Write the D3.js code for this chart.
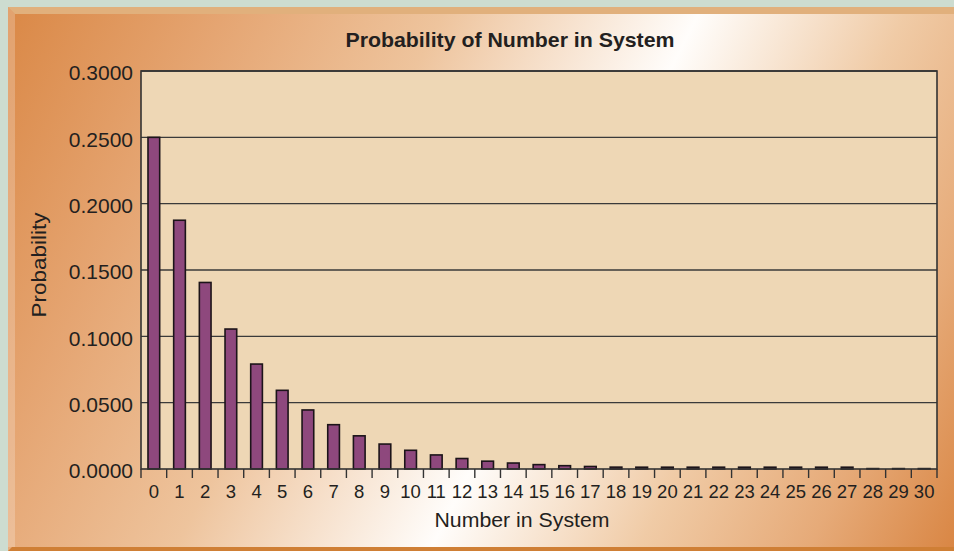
<!DOCTYPE html>
<html>
<head>
<meta charset="utf-8">
<script src="https://cdn.jsdelivr.net/npm/d3@7"></script>
<style>
  html, body { margin: 0; padding: 0; background: #cddcd0; }
  svg { display: block; }
  text { font-family: "Liberation Sans", Arial, Helvetica, sans-serif; fill: #231f20; }
</style>
</head>
<body>
<svg id="chart" width="954" height="551"></svg>
<script>
// Number of customers in the system and the probability of each count
const counts = d3.range(0, 31);
const probabilities = [
  0.2500, 0.1875, 0.1406, 0.1055, 0.0791, 0.0593, 0.0445, 0.0334,
  0.0250, 0.0188, 0.0141, 0.0106, 0.0079, 0.0059, 0.0045, 0.0033,
  0.0025, 0.0019, 0.0014, 0.0011, 0.0008, 0.0006, 0.0005, 0.0004,
  0.0003, 0.0002, 0.0002, 0.0001, 0.0000, 0.0000, 0.0000
];
const yTicks = [0, 0.05, 0.10, 0.15, 0.20, 0.25, 0.30];

const titleText = "Probability of Number in System";
const xLabel = "Number in System";
const yLabel = "Probability";

const W = 954, H = 551;
const plot = { left: 141, right: 937, top: 71, bottom: 469 };

const svg = d3.select("#chart");
const defs = svg.append("defs");

// Diagonal orange-white-orange sheen of the panel
const grad = defs.append("linearGradient")
  .attr("id", "panelGrad")
  .attr("gradientUnits", "userSpaceOnUse")
  .attr("x1", 8).attr("y1", 7).attr("x2", 982).attr("y2", 494);
[
  [0.00, "#da8846"],
  [0.18, "#e5a572"],
  [0.36, "#eec49d"],
  [0.57, "#fffdfb"],
  [0.74, "#f0cba6"],
  [0.88, "#e6aa78"],
  [1.00, "#d98644"]
].forEach(([o, c]) => grad.append("stop").attr("offset", o).attr("stop-color", c));

// Page background and panel
svg.append("rect").attr("width", W).attr("height", H).attr("fill", "#cddcd0");
svg.append("rect").attr("x", 8).attr("y", 7).attr("width", W - 8).attr("height", H - 7)
  .attr("fill", "url(#panelGrad)");

// Bevelled edges of the panel
svg.append("path")
  .attr("d", `M8,7 L${W},7 L${W},14 L15,14 Z`)
  .attr("fill", "#e1b07c");
svg.append("path")
  .attr("d", "M8,7 L15,14 L15,547 L8,547 Z")
  .attr("fill", "#ffffff").attr("opacity", 0.22);
svg.append("path")
  .attr("d", `M8,551 L12,547 L${W},547 L${W},551 Z`)
  .attr("fill", "#cf7f35");

// Scales
const n = counts.length;
const pad = 0.545;
const x = d3.scaleBand()
  .domain(counts)
  .range([plot.left, plot.right])
  .paddingInner(pad)
  .paddingOuter(pad / 2);
const step = x.step();

const y = d3.scaleLinear()
  .domain([0, 0.30])
  .range([plot.bottom, plot.top]);

// Plot background
svg.append("rect")
  .attr("x", plot.left).attr("y", plot.top)
  .attr("width", plot.right - plot.left).attr("height", plot.bottom - plot.top)
  .attr("fill", "#eed7b5");

// Horizontal gridlines
svg.append("g").selectAll("line")
  .data(yTicks.filter(d => d > 0))
  .join("line")
  .attr("x1", plot.left).attr("x2", plot.right)
  .attr("y1", d => y(d)).attr("y2", d => y(d))
  .attr("stroke", "#3a3a3a").attr("stroke-width", 1.4);

// Bars: tiny non-zero bars keep a visible body, zero bars collapse to a rule
const minVisible = 1.8;
const barHeight = d => {
  const h = plot.bottom - y(d.p);
  return d.p > 0 ? Math.max(h, minVisible) : 0.4;
};
svg.append("g").selectAll("rect")
  .data(counts.map((c, i) => ({ c, p: probabilities[i] })))
  .join("rect")
  .attr("x", d => x(d.c))
  .attr("width", x.bandwidth())
  .attr("y", d => plot.bottom - barHeight(d))
  .attr("height", barHeight)
  .attr("fill", "#8e487d")
  .attr("stroke", "#1c1419")
  .attr("stroke-width", 1.6);

// Plot frame
svg.append("rect")
  .attr("x", plot.left).attr("y", plot.top)
  .attr("width", plot.right - plot.left).attr("height", plot.bottom - plot.top)
  .attr("fill", "none")
  .attr("stroke", "#333").attr("stroke-width", 1.6);

// Y axis labels
const yAxis = d3.axisLeft(y)
  .tickValues(yTicks)
  .tickFormat(d3.format(".4f"))
  .tickSize(0)
  .tickPadding(8);
const gy = svg.append("g")
  .attr("transform", `translate(${plot.left},0)`)
  .call(yAxis);
gy.select(".domain").remove();
gy.selectAll("text")
  .attr("font-size", 21)
  .attr("dy", "0.42em")
  .style("font-family", '"Liberation Sans", Arial, sans-serif')
  .attr("fill", "#231f20");

// X axis: tick marks sit on the category boundaries, labels at category centres
const gx = svg.append("g");
gx.selectAll("line")
  .data(d3.range(n + 1))
  .join("line")
  .attr("x1", i => plot.left + i * step)
  .attr("x2", i => plot.left + i * step)
  .attr("y1", plot.bottom)
  .attr("y2", plot.bottom + 9)
  .attr("stroke", "#333").attr("stroke-width", 1.4);
gx.selectAll("text")
  .data(counts)
  .join("text")
  .attr("x", d => x(d) + x.bandwidth() / 2)
  .attr("y", 498)
  .attr("text-anchor", "middle")
  .attr("font-size", 18.5)
  .text(d => d);

// Title and axis titles
svg.append("text")
  .attr("x", 510).attr("y", 47)
  .attr("text-anchor", "middle")
  .attr("font-size", 21)
  .attr("font-weight", "bold")
  .attr("textLength", 329)
  .attr("lengthAdjust", "spacingAndGlyphs")
  .text(titleText);

svg.append("text")
  .attr("x", 522).attr("y", 527)
  .attr("text-anchor", "middle")
  .attr("font-size", 20)
  .attr("textLength", 175)
  .attr("lengthAdjust", "spacingAndGlyphs")
  .text(xLabel);

svg.append("text")
  .attr("transform", "translate(46,265) rotate(-90)")
  .attr("text-anchor", "middle")
  .attr("font-size", 20.5)
  .attr("textLength", 105)
  .attr("lengthAdjust", "spacingAndGlyphs")
  .text(yLabel);
</script>
</body>
</html>
